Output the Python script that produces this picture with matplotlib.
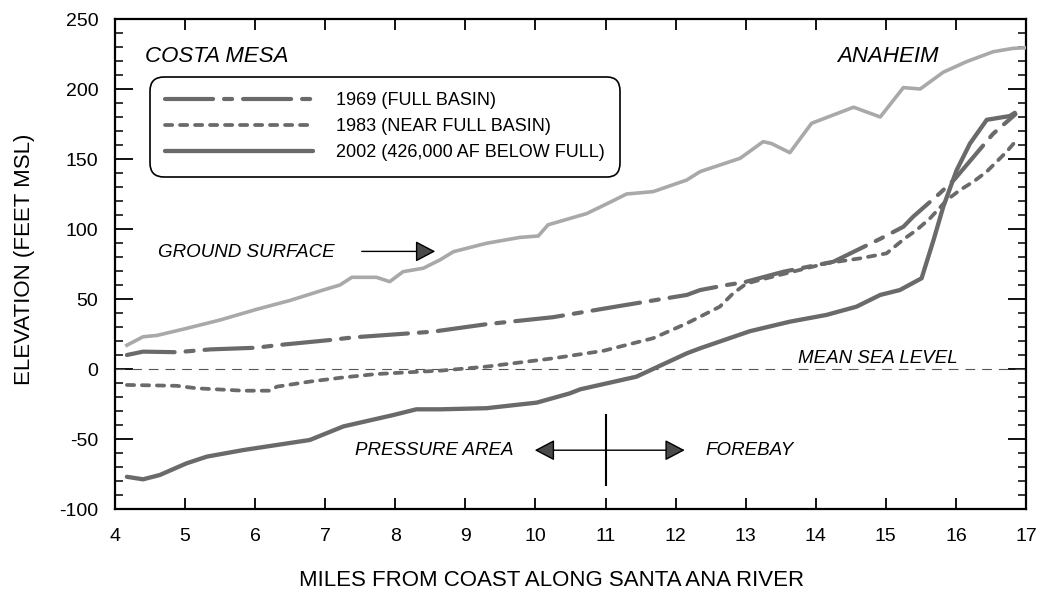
import matplotlib
matplotlib.use("Agg")
import matplotlib.pyplot as plt
from matplotlib.ticker import MultipleLocator

plt.rcParams['font.family'] = ['Liberation Sans', 'DejaVu Sans']
plt.rcParams['lines.scale_dashes'] = False
plt.rcParams['axes.unicode_minus'] = False

# ---------------- data ----------------
ground_x = [4.17, 4.40, 4.60, 5.02, 5.50, 6.02, 6.50, 6.97, 7.21, 7.38, 7.73, 7.92, 8.11,
            8.40, 8.64, 8.83, 9.30, 9.78, 10.04, 10.18, 10.73, 11.10, 11.30, 11.68, 12.16,
            12.35, 12.92, 13.25, 13.37, 13.63, 13.94, 14.54, 14.92, 15.25, 15.49, 15.82,
            16.15, 16.53, 16.81, 17.0]
ground_y = [17, 23, 24, 29, 35, 42.6, 49, 56.4, 60, 65.5, 65.5, 62.4, 69.5,
            72, 78, 83.8, 89.8, 94, 95, 103, 111, 120, 125, 126.7, 135,
            141, 150.5, 162.4, 161, 154.5, 175.5, 187, 180, 201, 200, 212,
            219.5, 226.6, 229, 229.5]

y1969_x = [4.17, 4.40, 4.88, 5.36, 6.02, 6.31, 7.07, 7.40, 8.21, 8.54, 9.30, 10.25, 11.20,
           12.16, 12.35, 12.73, 12.98, 13.54, 14.25, 14.92, 15.25, 15.39, 15.77, 15.98,
           16.53, 16.85]
y1969_y = [10, 12.4, 12, 14, 15.2, 17, 20.7, 22.6, 25.5, 26.7, 32, 37, 45,
           52.9, 56.4, 60, 62, 69.5, 76.6, 93, 101.6, 108.8, 125.5, 135.5,
           168, 182]

y1983_x = [4.17, 4.88, 5.17, 5.83, 6.21, 6.31, 6.78, 7.26, 7.73, 8.35, 8.64, 9.30, 10.25,
           10.97, 11.68, 12.16, 12.35, 12.63, 12.82, 13.01, 13.20, 14.15, 14.63, 15.01,
           15.27, 15.44, 15.63, 15.87, 16.06, 16.25, 16.44, 16.58, 16.72, 16.84]
y1983_y = [-11.4, -12, -13.8, -15.5, -15.5, -12.6, -9, -6, -3.6, -1.9, -1.2, 1.7, 7.6,
           13, 22, 32.6, 37.4, 44.5, 54, 61, 63.6, 75.5, 79, 82.6,
           93.3, 99.3, 107.6, 120.7, 127.9, 133.8, 141, 148, 155, 162]

y2002_x = [4.17, 4.40, 4.64, 5.02, 5.31, 5.83, 6.78, 7.26, 7.97, 8.30, 8.64, 9.30, 10.02,
           10.49, 10.64, 11.44, 12.16, 12.35, 13.06, 13.63, 14.15, 14.58, 14.92, 15.20,
           15.51, 15.68, 15.82, 16.01, 16.20, 16.44, 16.77, 16.84]
y2002_y = [-77, -78.8, -75.7, -67.4, -62.6, -57.9, -50.7, -41, -32.9, -28.8, -28.8, -28, -24,
           -17.4, -14.5, -5.5, 11.2, 14.8, 27, 33.8, 38.6, 44.5, 52.9, 56.4,
           64.8, 92, 116, 142, 161, 178, 180.7, 183]

labels = ["1969 (FULL BASIN)", "1983 (NEAR FULL BASIN)", "2002 (426,000 AF BELOW FULL)"]
x_ticks = list(range(4, 18))
y_ticks = list(range(-100, 251, 50))

# ---------------- figure ----------------
W, H = 1041, 592
fig = plt.figure(figsize=(W / 100, H / 100), dpi=100)
ax = fig.add_axes([115 / W, 83 / H, 911 / W, 490 / H])
ax.set_xlim(4, 17)
ax.set_ylim(-100, 250)

dark = '#6a6a6a'
ax.plot(ground_x, ground_y, color='#a9a9a9', lw=2.6, solid_joinstyle='round', zorder=3)
ax.plot(y1969_x, y1969_y, color=dark, lw=3.0, dashes=(34.6, 7.9, 5.8, 7.9),
        dash_capstyle='round', label=labels[0], zorder=3)
ax.plot(y1983_x, y1983_y, color=dark, lw=2.7, dashes=(5.2, 5.6),
        dash_capstyle='round', label=labels[1], zorder=3)
ax.plot(y2002_x, y2002_y, color=dark, lw=3.1, solid_capstyle='round',
        solid_joinstyle='round', label=labels[2], zorder=3)

# mean sea level
ax.axhline(0, color='#555555', lw=0.8, dashes=(7, 5), zorder=2)

# ticks
ax.set_xticks(x_ticks)
ax.set_yticks(y_ticks)
ax.yaxis.set_minor_locator(MultipleLocator(10))
ax.tick_params(axis='x', which='major', direction='in', top=True, length=8, width=1.3,
               labelsize=14, pad=14)
ax.tick_params(axis='y', which='major', direction='in', right=True, length=13, width=1.3,
               labelsize=14, pad=12)
ax.tick_params(axis='y', which='minor', direction='in', right=True, length=6, width=1.1)
for s in ax.spines.values():
    s.set_linewidth(1.6)
    s.set_color('black')

# legend
leg = ax.legend(loc='upper left', bbox_to_anchor=(35 / 911, (509 - 77) / 490),
                borderaxespad=0, fontsize=13, handlelength=8.2, handletextpad=1.25,
                labelspacing=0.5, borderpad=0.85, frameon=True, fancybox=True,
                framealpha=1, edgecolor='black')
fr = leg.get_frame()
fr.set_linewidth(1.2)
fr.set_boxstyle('round', pad=0, rounding_size=0.75)

# texts
ax.text(4.43, 223, "COSTA MESA", fontsize=16, style='italic', ha='left', va='center')
ax.text(15.75, 223, "ANAHEIM", fontsize=16, style='italic', ha='right', va='center')
ax.text(4.61, 83, "GROUND SURFACE", fontsize=13.5, style='italic', ha='left', va='center')
ax.text(9.68, -58, "PRESSURE AREA", fontsize=13.5, style='italic', ha='right', va='center')
ax.text(12.42, -58, "FOREBAY", fontsize=13.5, style='italic', ha='left', va='center')
ax.text(13.75, 7.5, "MEAN SEA LEVEL", fontsize=13.5, style='italic', ha='left', va='center')

# arrows
ax.annotate('', xy=(8.57, 84), xytext=(7.52, 84),
            arrowprops=dict(arrowstyle='-|>,head_length=0.95,head_width=0.5', lw=1.0,
                            ec='black', fc='#4a4a4a', shrinkA=0, shrinkB=0,
                            mutation_scale=13))
ax.annotate('', xy=(12.13, -58), xytext=(9.99, -58),
            arrowprops=dict(arrowstyle='<|-|>,head_length=0.95,head_width=0.5', lw=1.0,
                            ec='black', fc='#4a4a4a', shrinkA=0, shrinkB=0,
                            mutation_scale=13))
ax.plot([11, 11], [-33, -83], color='black', lw=1.5)

# axis labels
fig.text(0.024, 0.5625, "ELEVATION (FEET MSL)", rotation=90, fontsize=16,
         ha='center', va='center')
fig.text(552 / W, 5.5 / H, "MILES FROM COAST ALONG SANTA ANA RIVER", fontsize=16,
         ha='center', va='baseline')

fig.savefig('out.png', dpi=100)
